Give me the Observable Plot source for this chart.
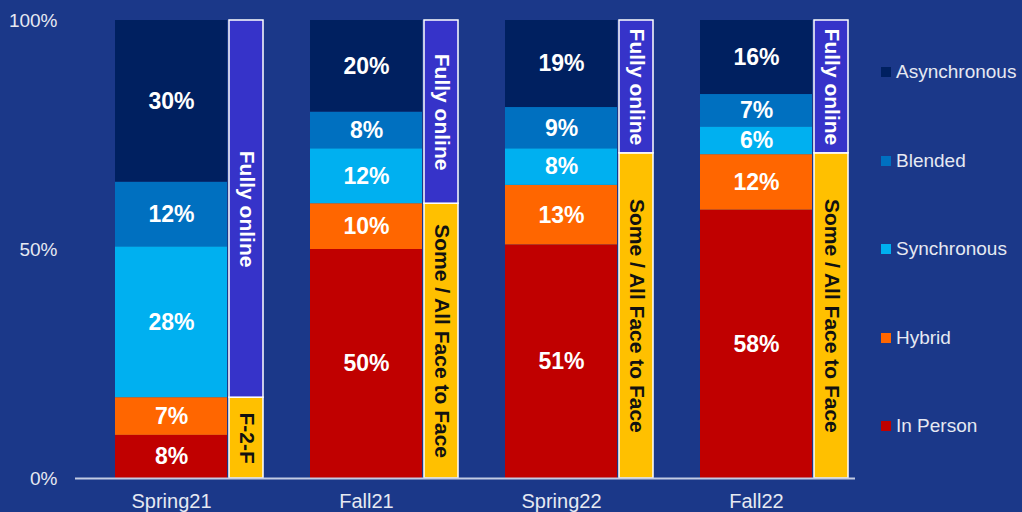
<!DOCTYPE html>
<html>
<head>
<meta charset="utf-8">
<script src="https://cdn.jsdelivr.net/npm/d3@7"></script>
<script src="https://cdn.jsdelivr.net/npm/@observablehq/plot@0.6"></script>
<style>
  html, body { margin: 0; padding: 0; background: #1b3889; }
  #wrap { position: relative; width: 1022px; height: 512px; overflow: hidden; background: #1b3889; font-family: "Liberation Sans", Arial, sans-serif; }
  #legend { position: absolute; left: 881px; top: 0; }
  .item { position: absolute; left: 0; display: flex; align-items: center; white-space: nowrap; height: 20px; }
  .sw { width: 10px; height: 10px; margin-right: 5px; }
  .lab { font-size: 19px; color: #e6e9f2; }
</style>
</head>
<body>
<div id="wrap"><div id="chart"></div><div id="legend"></div></div>
<script>
// ---- data ----
const terms = ["Spring21", "Fall21", "Spring22", "Fall22"];
const modes = ["In Person", "Hybrid", "Synchronous", "Blended", "Asynchronous"];
const modeColors = ["#c00000", "#ff6600", "#00b0f0", "#0070c0", "#002060"];
const inPerson = [8, 50, 51, 58];
const hybrid = [7, 10, 13, 12];
const synchronous = [28, 12, 8, 6];
const blended = [12, 8, 9, 7];
const asynchronous = [30, 20, 19, 16];

const groups = ["Some / All Face to Face", "Fully online"];
const groupColors = ["#ffc000", "#3633c9"];
const faceToFace = [15, 60, 71, 71];
const fullyOnline = [70, 40, 29, 29];
const faceToFaceLabels = ["F-2-F", "Some / All Face to Face", "Some / All Face to Face", "Some / All Face to Face"];
const onlineLabels = ["Fully online", "Fully online", "Fully online", "Fully online"];

const legendOrder = ["Asynchronous", "Blended", "Synchronous", "Hybrid", "In Person"];

// ---- tables built from the arrays ----
const series = [inPerson, hybrid, synchronous, blended, asynchronous];
const rows = [];
terms.forEach((t, i) => modes.forEach((m, j) => rows.push({term: t, mode: m, value: series[j][i]})));
const sideRows = [];
terms.forEach((t, i) => {
  sideRows.push({term: t, group: groups[0], value: faceToFace[i], label: faceToFaceLabels[i]});
  sideRows.push({term: t, group: groups[1], value: fullyOnline[i], label: onlineLabels[i]});
});

const light = "#e6e9f2";
const stackOpts = {offset: "normalize", x: "term", y: "value"};

const chart = Plot.plot({
  width: 1022,
  height: 512,
  marginLeft: 75,
  marginRight: 167,
  marginTop: 20,
  marginBottom: 34,
  style: {background: "transparent", fontFamily: "'Liberation Sans', Arial, sans-serif", color: light},
  x: {domain: terms, range: [114, 848], paddingInner: 0.2423, paddingOuter: 0, label: null},
  y: {domain: [0, 1], label: null},
  color: {domain: modes.concat(groups), range: modeColors.concat(groupColors)},
  marks: [
    Plot.barY(rows, Plot.stackY({...stackOpts, z: "mode", fill: "mode", insetRight: 36})),
    Plot.text(rows, Plot.stackY({...stackOpts, z: "mode", text: d => d.value + "%", dx: -18,
      fill: "white", fontWeight: "bold", fontSize: 23})),
    Plot.barY(sideRows, Plot.stackY({...stackOpts, z: "group", fill: "group", stroke: "white", strokeWidth: 1.5, insetLeft: 114})),
    Plot.text(sideRows, Plot.stackY({...stackOpts, z: "group",
      text: d => d.group === groups[0] ? d.label : null, rotate: 90, dx: 57,
      fill: "#111111", fontWeight: "bold", fontSize: 21})),
    Plot.text(sideRows, Plot.stackY({...stackOpts, z: "group",
      text: d => d.group === groups[1] ? d.label : null, rotate: 90, dx: 57,
      fill: "white", fontWeight: "bold", fontSize: 21})),
    Plot.ruleY([0], {stroke: "#c3cbe3", strokeWidth: 2}),
    Plot.axisY({ticks: [0, 0.5, 1], tickFormat: d3.format(".0%"), tickSize: 0, tickPadding: 18,
      fontSize: 19, color: light, label: null}),
    Plot.axisX({tickSize: 0, tickPadding: 15, dx: -18, fontSize: 20, color: light, label: null})
  ]
});
document.getElementById("chart").appendChild(chart);

// ---- legend (HTML, right side) ----
const legend = document.getElementById("legend");
legendOrder.forEach((m, i) => {
  const item = document.createElement("div");
  item.className = "item";
  item.style.top = (72 + i * 88.5 - 10) + "px";
  const sw = document.createElement("div");
  sw.className = "sw";
  sw.style.background = modeColors[modes.indexOf(m)];
  const lab = document.createElement("span");
  lab.className = "lab";
  lab.textContent = m;
  item.appendChild(sw);
  item.appendChild(lab);
  legend.appendChild(item);
});
</script>
</body>
</html>
